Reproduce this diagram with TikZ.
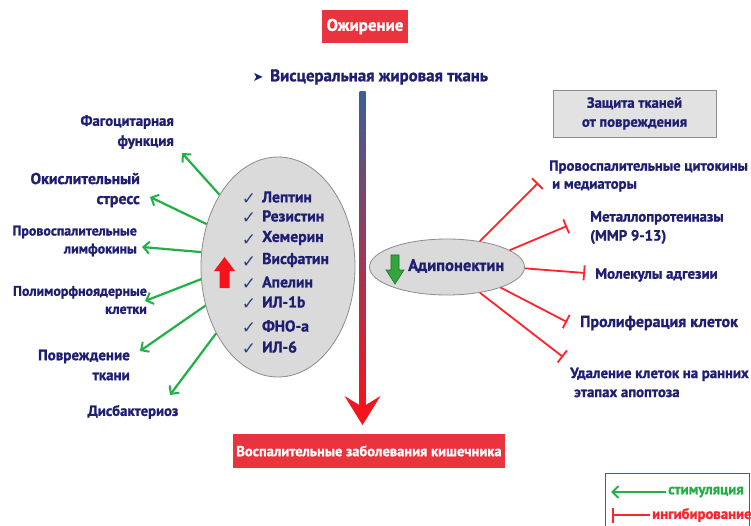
\documentclass[tikz,border=0pt]{standalone}
\usepackage{fontspec}
\setmainfont{PT Sans}[BoldFeatures={FakeBold=1.2}]
\newfontfamily\chkfont{DejaVu Sans}
\usetikzlibrary{arrows.meta,shapes.geometric,calc}
\definecolor{navy}{RGB}{30,30,115}
\definecolor{boxred}{RGB}{233,52,62}
\definecolor{stimgreen}{RGB}{34,176,70}
\definecolor{inhred}{RGB}{255,35,45}
\definecolor{ellfill}{RGB}{218,218,218}
\definecolor{ellline}{RGB}{140,140,140}
\definecolor{boxgray}{RGB}{226,226,226}
\definecolor{legblue}{RGB}{75,85,150}
\definecolor{chkblue}{RGB}{45,65,135}
\definecolor{shaftblue}{RGB}{60,95,150}
\definecolor{shaftmid}{RGB}{195,200,230}
\definecolor{arrred}{RGB}{245,20,30}
\definecolor{dngreen}{RGB}{50,165,60}
\definecolor{dngreenline}{RGB}{30,110,40}
\tikzset{
 lbl/.style={font=\bfseries\fontsize{15}{20}\selectfont, text=navy, inner sep=0pt},
 lblR/.style={lbl, align=right, anchor=east},
 lblL/.style={lbl, align=left, anchor=west},
 item/.style={font=\bfseries\fontsize{15.7}{18}\selectfont, text=navy, inner sep=0pt, anchor=west},
 chk/.style={font=\chkfont\fontsize{17}{17}\selectfont, text=chkblue, inner sep=0pt},
 stim/.style={draw=stimgreen, line width=2.2pt, -{Straight Barb[length=6pt,width=12pt,line width=2pt]}},
 inhib/.style={draw=inhred, line width=1.8pt, -{Bar[width=15pt,line width=1.8pt]}},
 redbox/.style={fill=boxred, text=white, inner sep=0pt},
 oval/.style={ellipse, draw=ellline, fill=ellfill, line width=0.8pt, inner sep=0pt},
}
\begin{document}
\begin{tikzpicture}[x=1pt,y=-1pt]
\useasboundingbox (0,0) rectangle (751,526);
\fill[white] (0,0) rectangle (751,526);

% top
\node[redbox, minimum width=86pt, minimum height=33pt, font=\bfseries\fontsize{16.9}{18}\selectfont] (ob) at (365,26.5) {Ожирение};
\node[font=\chkfont\fontsize{13}{13}\selectfont, text=navy, inner sep=0pt] (viscmark) at (258,77) {➤};
\node[font=\bfseries\fontsize{16.8}{18}\selectfont, text=navy, anchor=west, inner sep=0pt] (visc) at (270,77) {Висцеральная жировая ткань};

% central arrow
\coordinate (shtop) at (362.5,92);
\coordinate (tip) at (362.5,425);
\shade[top color=shaftblue, middle color=shaftmid, bottom color=arrred] ($(shtop)+(-3,0)$) rectangle ($(tip)+(3,-18)$);
\fill[arrred] (tip) -- ++(-18,-29) -- ++(18,11) -- ++(18,-11) -- cycle;

\node[redbox, minimum width=272pt, minimum height=34pt, font=\bfseries\fontsize{14.5}{16}\selectfont] (ibd) at (369,451) {Воспалительные заболевания кишечника};

% left ellipse
\node[oval, minimum width=154pt, minimum height=220pt] (L) at (278,267) {};
\foreach \n/\yy/\t in {1/197/Лептин,2/216/Резистин,3/238/Хемерин,4/260/Висфатин,5/282/Апелин,6/302/ИЛ-1b,7/326/ФНО-а,8/347/ИЛ-6}{
  \node[chk] (c\n) at (249,\yy+2) {✓};
  \node[item] (i\n) at (262,\yy) {\t};
}
\fill[arrred] (224.5,257) -- (235,271) -- (229.5,271) -- (229.5,288) -- (219.5,288) -- (219.5,271) -- (214,271) -- cycle;

% left labels
\node[lblR, font=\bfseries\fontsize{14.8}{20}\selectfont] (l1) at (174,132) {Фагоцитарная\\функция};
\node[lblR, font=\bfseries\fontsize{15.8}{20}\selectfont] (l2) at (140,190) {Окислительный\\стресс};
\node[lblR, font=\bfseries\fontsize{13.9}{18}\selectfont] (l3) at (137,241) {Провоспалительные\\лимфокины};
\node[lblR, font=\bfseries\fontsize{13.9}{18}\selectfont] (l4) at (147,300) {Полиморфноядерные\\клетки};
\node[lblR] (l5) at (130,365) {Повреждение\\ткани};
\node[lbl, font=\bfseries\fontsize{14.7}{18}\selectfont] (l6) at (133,412) {Дисбактериоз};

\coordinate (g1) at (182,153);
\coordinate (g2) at (150,197);
\coordinate (g3) at (142,247);
\coordinate (g4) at (145,301);
\coordinate (g5) at (140,351);
\coordinate (g6) at (170,395);
\draw[stim] (L.129.6) -- (g1);
\draw[stim] (L.149.4) -- (g2);
\draw[stim] (L.169.4) -- (g3);
\draw[stim] (L.189) -- (g4);
\draw[stim] (L.208.7) -- (g5);
\draw[stim] (L.227.2) -- (g6);

% right ellipse
\node[oval, minimum width=155pt, minimum height=56pt] (R) at (447,267) {};
\node[item, font=\bfseries\fontsize{16.6}{18}\selectfont] (adip) at (408,266) {Адипонектин};
\filldraw[fill=dngreen, draw=dngreenline, line width=0.6pt] (391,255) -- (399,255) -- (399,270) -- (404,270) -- (395,284) -- (386,270) -- (391,270) -- cycle;

% right labels
\node[lblL, font=\bfseries\fontsize{14.7}{18}\selectfont] (r1l) at (549,176) {Провоспалительные цитокины\\\hspace{3pt}и медиаторы};
\node[lblL, font=\bfseries\fontsize{14.8}{19}\selectfont] (r2l) at (590,227.5) {Металлопротеиназы\\(ММР 9-13)};
\node[lblL, font=\bfseries\fontsize{14.9}{18}\selectfont] (r3l) at (595,275) {Молекулы адгезии};
\node[lblL, font=\bfseries\fontsize{16}{18}\selectfont] (r4l) at (580,323) {Пролиферация клеток};
\node[lblL, font=\bfseries\fontsize{14.75}{19}\selectfont] (r5l) at (570,382.5) {Удаление клеток на ранних\\\hspace{4pt}этапах апоптоза};

\coordinate (r1) at (538,183);
\coordinate (r2) at (567,226);
\coordinate (r3) at (585,273);
\coordinate (r4) at (567,322);
\coordinate (r5) at (563,357);
\draw[inhib] (R.38.5) -- (r1);
\draw[inhib] (R.15.7) -- (r2);
\draw[inhib] (R.-1) -- (r3);
\draw[inhib] (R.-21.6) -- (r4);
\draw[inhib] (R.-38.9) -- (r5);

% protection box
\node[draw=ellline, fill=boxgray, line width=0.8pt, minimum width=163pt, minimum height=47pt, align=center, font=\bfseries\fontsize{14.6}{19}\selectfont, text=navy, inner sep=0pt] (prot) at (634.5,113.5) {Защита тканей\\от повреждения};

% legend
\node[draw=legblue, line width=1pt, minimum width=144pt, minimum height=70pt, anchor=north west, inner sep=0pt] (leg) at (605,473) {};
\node[anchor=west, text=stimgreen, font=\bfseries\fontsize{14.7}{16}\selectfont, inner sep=0pt] (lgs) at (668,492) {стимуляция};
\node[anchor=west, text=inhred, font=\bfseries\fontsize{14.7}{16}\selectfont, inner sep=0pt] (lgi) at (652,515) {ингибирование};
\coordinate (ls1) at (666,492);
\coordinate (ls2) at (611,492);
\coordinate (li1) at (650,515);
\coordinate (li2) at (612,515);
\draw[stim] (ls1) -- (ls2);
\draw[inhib] (li1) -- (li2);
\end{tikzpicture}
\end{document}
